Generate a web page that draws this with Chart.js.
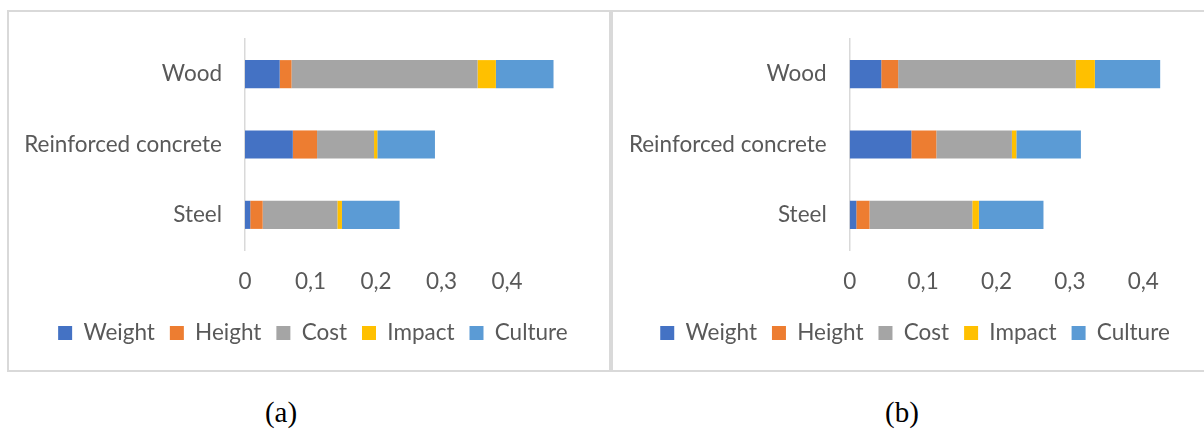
<!DOCTYPE html>
<html>
<head>
<meta charset="utf-8">
<script src="https://cdn.jsdelivr.net/npm/chart.js@4/dist/chart.umd.min.js"></script>
<style>
  body { margin: 0; background: #fff; width: 1204px; height: 429px; position: relative; overflow: hidden; }
  .panel { position: absolute; top: 10px; height: 362px; border: 2px solid #d9d9d9; box-sizing: border-box; }
  .panel canvas { position: absolute; left: 0; top: 0; }
  .cap { position: absolute; top: 394px; width: 80px; text-align: center; font-family: "Liberation Serif", serif; font-size: 29px; line-height: 36px; color: #000; }
</style>
</head>
<body>
<div class="panel" style="left:7px; width:604px;"><canvas id="chartA" width="600" height="358"></canvas></div>
<div class="panel" style="left:611px; width:600px;"><canvas id="chartB" width="591" height="358"></canvas></div>
<div class="cap" style="left:241px;">(a)</div>
<div class="cap" style="left:862px;">(b)</div>
<script>
// Data
const categories = ['Wood', 'Reinforced concrete', 'Steel'];
const seriesNames = ['Weight', 'Height', 'Cost', 'Impact', 'Culture'];
const seriesColors = ['#4472C4', '#ED7D31', '#A5A5A5', '#FFC000', '#5B9BD5'];
const tickValues = [0, 0.1, 0.2, 0.3, 0.4];

// chart (a): Wood, Reinforced concrete, Steel
const weightA  = [0.053, 0.073, 0.008];
const heightA  = [0.018, 0.037, 0.019];
const costA    = [0.284, 0.087, 0.114];
const impactA  = [0.028, 0.005, 0.007];
const cultureA = [0.088, 0.088, 0.088];

// chart (b)
const weightB  = [0.043, 0.084, 0.009];
const heightB  = [0.023, 0.034, 0.018];
const costB    = [0.242, 0.103, 0.140];
const impactB  = [0.026, 0.006, 0.009];
const cultureB = [0.089, 0.088, 0.088];

const textColor = '#595959';
const fontFamily = 'Lato, "Open Sans", sans-serif';
const fontSize = 22.5;

function fmt(v) {
    return String(+v.toFixed(1)).replace('.', ',');
}

function noPadding(scale) {
    scale.paddingTop = 0;
    scale.paddingBottom = 0;
    scale.paddingLeft = 0;
    scale.paddingRight = 0;
}

function createChart(chartId, series, xMax, padLeft, yWidth) {
    new Chart(document.getElementById(chartId), {
        type: 'bar',
        data: {
            labels: categories,
            datasets: series.map((values, i) => ({
                label: seriesNames[i],
                data: values,
                backgroundColor: seriesColors[i],
                borderWidth: 0,
                barPercentage: 0.4,
                categoryPercentage: 1
            }))
        },
        options: {
            indexAxis: 'y',
            responsive: false,
            animation: false,
            layout: { padding: { left: padLeft, right: 0, top: 27, bottom: 15.75 } },
            scales: {
                x: {
                    stacked: true,
                    min: 0,
                    max: xMax,
                    grid: { display: false, drawTicks: false },
                    border: { display: false },
                    afterBuildTicks: scale => { scale.ticks = tickValues.map(v => ({ value: v })); },
                    afterFit: scale => { scale.height = 56.75; noPadding(scale); },
                    ticks: {
                        padding: 18,
                        color: textColor,
                        font: { family: fontFamily, size: fontSize },
                        callback: v => fmt(v)
                    }
                },
                y: {
                    stacked: true,
                    grid: { display: false, drawTicks: false },
                    border: { display: true, color: '#d9d9d9', width: 1.5 },
                    afterFit: scale => { scale.width = yWidth; noPadding(scale); },
                    ticks: {
                        padding: 23,
                        color: textColor,
                        font: { family: fontFamily, size: fontSize }
                    }
                }
            },
            plugins: {
                tooltip: { enabled: false },
                legend: {
                    position: 'bottom',
                    labels: {
                        boxWidth: 14,
                        boxHeight: 14,
                        padding: 15,
                        color: textColor,
                        font: { family: fontFamily, size: fontSize }
                    }
                }
            }
        }
    });
}

// Two charts
createChart('chartA', [weightA, heightA, costA, impactA, cultureA], 0.5557, 7.8, 228.2);
createChart('chartB', [weightB, heightB, costB, impactB, cultureB], 0.4827, 13, 223.7);
</script>
</body>
</html>
